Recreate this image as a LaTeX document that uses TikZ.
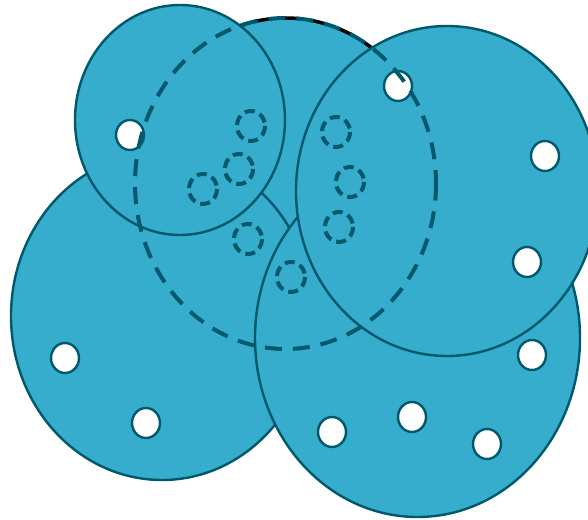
\documentclass[tikz,border=0pt]{standalone}
\usepackage{tikz}
\usetikzlibrary{positioning}
\definecolor{blobfill}{RGB}{54,173,205}
\definecolor{blobline}{RGB}{0,88,108}
\tikzset{
  blob/.style={fill=blobfill, draw=blobline, line width=2.4pt},
  hole/.style={fill=white, draw=blobline, line width=2.4pt},
  ghost/.style={draw=blobline, line width=4pt, dash pattern=on 10pt off 5.5pt},
  bigdash/.style={draw=blobline, line width=4pt, dash pattern=on 17pt off 11pt}
}
\begin{document}
\begin{tikzpicture}[x=1pt, y=-1pt]
    \useasboundingbox (0,0) rectangle (588,519);

    % mittlere Menge (unten, schwarzer Rand)
    \fill[blobfill] (285.5,183.5) ellipse (150.5 and 165.5);
    \draw[black, line width=3.5pt, dash pattern=on 17pt off 11pt, dash phase=14pt] (285.5,183.5) ellipse (150.5 and 165.5);

    % grosse Mengen
    \draw[blob] (162,316) ellipse (151 and 164);
    \draw[blob] (180,120) ellipse (105 and 115);
    \draw[blob] (417.5,338) ellipse (162.5 and 179);
    \draw[blob] (447,191) ellipse (151 and 165);

    % weisse Punkte
    \foreach \px/\py in {398/86, 130/135, 545/156, 527/262, 532/355,
                         65/358, 146/423, 332/432, 412/417, 487/444} {
        \draw[hole] (\px,\py) ellipse (14 and 15);
    }

    % gestrichelter Rand der mittleren Menge
    \draw[bigdash] (285.5,183.5) ellipse (150.5 and 165.5);

    % gestrichelte Punkte
    \foreach \px/\py in {251/126, 336/132, 239/169, 350/182,
                         203/189, 339/227, 248/239, 291/277} {
        \draw[ghost] (\px,\py) ellipse (14 and 15);
    }
\end{tikzpicture}
\end{document}
